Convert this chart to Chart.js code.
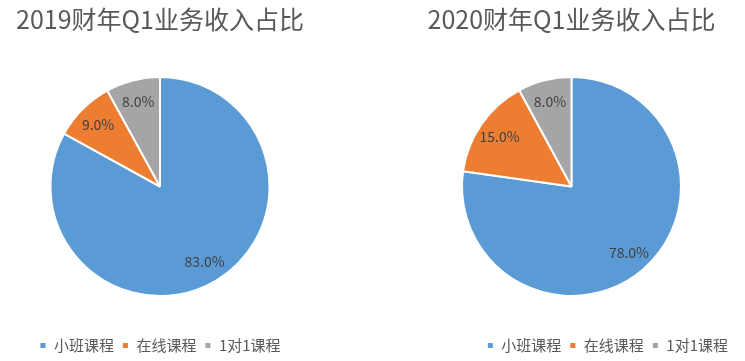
<!DOCTYPE html>
<html>
<head>
<meta charset="utf-8">
<script src="https://cdn.jsdelivr.net/npm/chart.js@4"></script>
<style>
  html,body{margin:0;padding:0;background:#fff;}
  body{width:745px;height:361px;position:relative;overflow:hidden;}
  .box{position:absolute;top:0;height:361px;}
</style>
</head>
<body>
<div class="box" style="left:0;width:320px"><canvas id="c2019"></canvas></div>
<div class="box" style="left:398px;width:347px"><canvas id="c2020"></canvas></div>
<script>
const categories = ["小班课程", "在线课程", "1对1课程"];
const share2019 = [83.0, 9.0, 8.0];
const share2020 = [78.0, 15.0, 8.0];
const titles = ["2019财年Q1业务收入占比", "2020财年Q1业务收入占比"];
const colors = ["#5B9BD5", "#ED7D31", "#A5A5A5"];

const FONT = "'Noto Sans CJK SC','Noto Sans',sans-serif";

/* labels inside the slices */
const sliceLabels = {
  id: "sliceLabels",
  afterDatasetsDraw(chart) {
    const ctx = chart.ctx;
    const data = chart.data.datasets[0].data;
    ctx.save();
    ctx.font = "14px " + FONT;
    ctx.fillStyle = "#404040";
    ctx.textAlign = "center";
    ctx.textBaseline = "middle";
    chart.getDatasetMeta(0).data.forEach((arc, i) => {
      const p = arc.getProps(["x","y","startAngle","endAngle","outerRadius"], true);
      const mid = (p.startAngle + p.endAngle) / 2;
      const f = 0.8;
      ctx.fillText(data[i].toFixed(1) + "%",
        p.x + Math.cos(mid) * p.outerRadius * f,
        p.y + Math.sin(mid) * p.outerRadius * f);
    });
    ctx.restore();
  }
};

/* leave a gap between the pie and the legend */
function legendGap(extra, shiftY, shiftX){
  return {
    id: "legendGap",
    beforeInit(chart){
      const fit = chart.legend.fit;
      chart.legend.fit = function(){
        fit.call(this);
        this.height += extra;
      };
    },
    afterLayout(chart){
      const lg = chart.legend;
      lg.top += shiftY; lg.bottom += shiftY;
      lg.left += shiftX; lg.right += shiftX;
    }
  };
}

function makePie(id, title, values, legendAlign, shiftX){
  return new Chart(document.getElementById(id), {
    type: "pie",
    data: {
      labels: categories,
      datasets: [{
        data: values,
        backgroundColor: colors,
        borderColor: "#ffffff",
        borderWidth: 2
      }]
    },
    options: {
      responsive: true,
      maintainAspectRatio: false,
      animation: false,
      plugins: {
        title: {
          display: true,
          text: title,
          color: "#595959",
          font: { family: FONT, size: 25, weight: "normal" },
          padding: { top: 4, bottom: 42 }
        },
        legend: {
          position: "bottom",
          align: legendAlign,
          labels: {
            color: "#595959",
            font: { family: FONT, size: 15 },
            boxWidth: 7,
            boxHeight: 7,
            padding: 8
          }
        },
        tooltip: { enabled: false }
      }
    },
    plugins: [sliceLabels, legendGap(31, 33, shiftX)]
  });
}

makePie("c2019", titles[0], share2019, "center", 0);
makePie("c2020", titles[1], share2020, "end", -9);
</script>
</body>
</html>
